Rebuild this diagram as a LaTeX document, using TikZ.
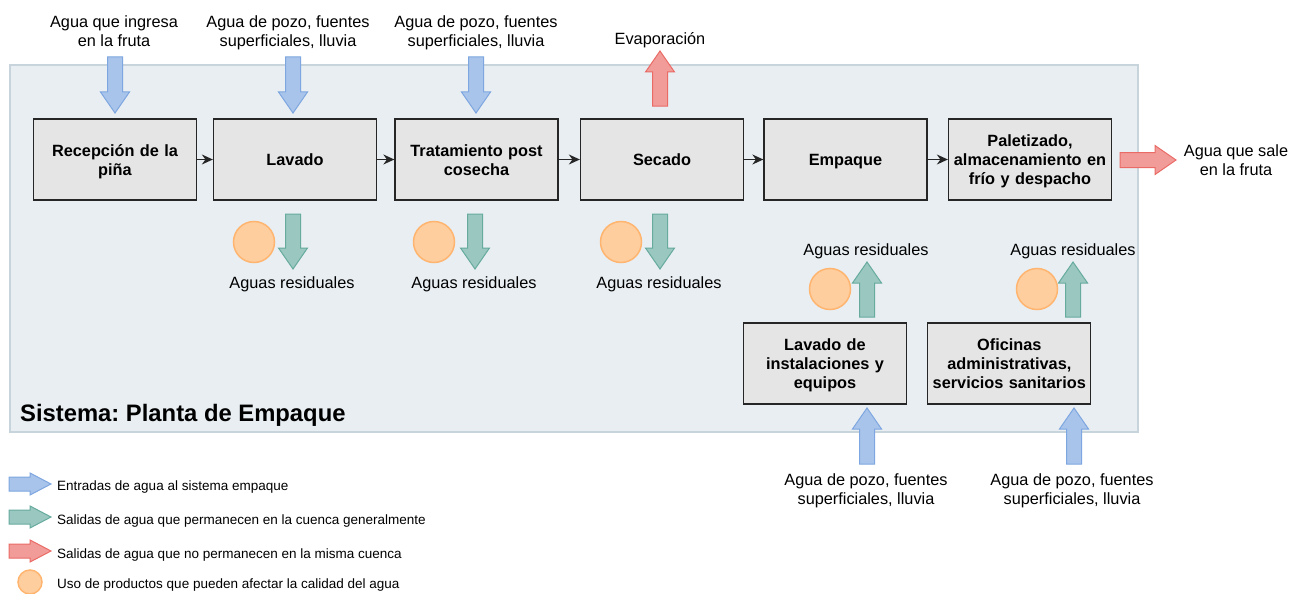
\documentclass[tikz,border=0pt]{standalone}
\usepackage{fontspec}
\setmainfont{Liberation Sans}
\usetikzlibrary{positioning,arrows.meta}
\frenchspacing

\definecolor{sisfondo}{HTML}{E8EEF2}
\definecolor{sisborde}{HTML}{C8D4DC}
\definecolor{azulrell}{HTML}{A9C4EB}
\definecolor{azulbord}{HTML}{7EA6E0}
\definecolor{verderell}{HTML}{9AC7BF}
\definecolor{verdebord}{HTML}{67AB9F}
\definecolor{rojorell}{HTML}{F19C99}
\definecolor{rojobord}{HTML}{EA6B66}
\definecolor{naranjarell}{HTML}{FFCE9F}
\definecolor{naranjabord}{HTML}{FFB570}

\newcommand{\puntal}{\rule[-3.5pt]{0pt}{19pt}}

\tikzset{
  flecha/.pic={\draw[pic actions] (0,-7.5) -- ({#1-21},-7.5) -- ({#1-21},-14.5)
    -- (#1,0) -- ({#1-21},14.5) -- ({#1-21},7.5) -- (0,7.5) -- cycle;},
  flechita/.pic={\draw[pic actions] (0,-7) -- (21,-7) -- (21,-11)
    -- (42,0) -- (21,11) -- (21,7) -- (0,7) -- cycle;}
}

\begin{document}
\begin{tikzpicture}[x=1pt,y=-1pt,
  proceso/.style={draw=black!85,fill=black!10,line width=1.3pt,minimum width=163pt,
    minimum height=81pt,text width=158pt,inner sep=0pt,align=center,
    font=\fontsize{16.3}{19}\selectfont\bfseries,
    execute at begin node=\puntal,execute at end node=\puntal},
  etiqueta/.style={align=center,inner sep=0pt,font=\fontsize{16.3}{19}\selectfont,
    execute at begin node=\puntal,execute at end node=\puntal},
  leyenda/.style={anchor=base west,inner sep=0pt,font=\fontsize{13.5}{16}\selectfont},
  entrada/.style={fill=azulrell,draw=azulbord,line width=1pt},
  salida/.style={fill=verderell,draw=verdebord,line width=1pt},
  perdida/.style={fill=rojorell,draw=rojobord,line width=1pt},
  producto/.style={circle,fill=naranjarell,draw=naranjabord,line width=1.5pt,
    minimum size=41pt,inner sep=0pt},
  paso/.style={-{Stealth[length=11pt,width=10pt]},line width=1.3pt,black!85}]
\useasboundingbox (0,0) rectangle (1291,594);

% sistema
\draw[fill=sisfondo,draw=sisborde,line width=1.3pt] (10,65) rectangle (1138,432);
\node[anchor=base west,inner sep=0pt,font=\fontsize{23.8}{28}\selectfont\bfseries]
  (titulo) at (20,421) {Sistema: Planta de Empaque};

% procesos
\node[proceso] (recepcion) at (115,159.5) {Recepción de la\\piña};
\node[proceso] (lavado) at (295,159.5) {Lavado};
\node[proceso] (tratamiento) at (476.5,159.5) {Tratamiento post\\cosecha};
\node[proceso] (secado) at (662,159.5) {Secado};
\node[proceso] (empaque) at (845.5,159.5) {Empaque};
\node[proceso] (paletizado) at (1030,159.5) {Paletizado,\\almacenamiento en\\frío y despacho};
\node[proceso] (instalaciones) at (825,363.5) {Lavado de\\instalaciones y\\equipos};
\node[proceso,right=20pt of instalaciones] (oficinas) {Oficinas\\administrativas,\\servicios sanitarios};

\draw[paso] (recepcion) -- (lavado);
\draw[paso] (lavado) -- (tratamiento);
\draw[paso] (tratamiento) -- (secado);
\draw[paso] (secado) -- (empaque);
\draw[paso] (empaque) -- (paletizado);

% entradas
\pic[entrada,rotate=-90] (entA) at (115,57) {flecha=56};
\pic[entrada,rotate=-90] (entB) at (293,57) {flecha=56};
\pic[entrada,rotate=-90] (entC) at (476,57) {flecha=56};
\pic[entrada,rotate=90] (entD) at (867,464) {flecha=56};
\pic[entrada,rotate=90] (entE) at (1074,464) {flecha=56};
\node[etiqueta] (lblA) at (114,33) {Agua que ingresa\\en la fruta};
\node[etiqueta] (lblB) at (288,33) {Agua de pozo, fuentes\\superficiales, lluvia};
\node[etiqueta] (lblC) at (476,33) {Agua de pozo, fuentes\\superficiales, lluvia};
\node[etiqueta] (lblD) at (866,490.5) {Agua de pozo, fuentes\\superficiales, lluvia};
\node[etiqueta] (lblE) at (1072,490.5) {Agua de pozo, fuentes\\superficiales, lluvia};

% perdidas
\pic[perdida,rotate=90] (evap) at (660,106) {flecha=55};
\pic[perdida] (fruta) at (1120,160) {flecha=56};
\node[etiqueta] (lblEvap) at (660,38.5) {Evaporación};
\node[etiqueta] (lblFruta) at (1236,161.5) {Agua que sale\\en la fruta};

% aguas residuales
\pic[salida,rotate=-90] (salA) at (293,214) {flecha=55};
\pic[salida,rotate=-90] (salB) at (475,214) {flecha=55};
\pic[salida,rotate=-90] (salC) at (660,214) {flecha=55};
\pic[salida,rotate=90] (salD) at (867,317) {flecha=55};
\pic[salida,rotate=90] (salE) at (1073,317) {flecha=55};
\node[producto] (prodA) at (254,242) {};
\node[producto] (prodB) at (434,242) {};
\node[producto] (prodC) at (621,242) {};
\node[producto] (prodD) at (830,289) {};
\node[producto] (prodE) at (1037,289) {};
\node[etiqueta] (resA) at (292,282) {Aguas residuales};
\node[etiqueta] (resB) at (474,282) {Aguas residuales};
\node[etiqueta] (resC) at (659,282) {Aguas residuales};
\node[etiqueta] (resD) at (866,249) {Aguas residuales};
\node[etiqueta] (resE) at (1073,249) {Aguas residuales};

% leyenda
\pic[entrada] (leyA) at (9,484) {flechita};
\pic[salida] (leyB) at (9,517) {flechita};
\pic[perdida] (leyC) at (9,551) {flechita};
\node[producto,minimum size=24pt] (leyD) at (30,582) {};
\node[leyenda] (txtA) at (57,490) {Entradas de agua al sistema empaque};
\node[leyenda] (txtB) at (57,524) {Salidas de agua que permanecen en la cuenca generalmente};
\node[leyenda] (txtC) at (57,558.3) {Salidas de agua que no permanecen en la misma cuenca};
\node[leyenda] (txtD) at (57,588.3) {Uso de productos que pueden afectar la calidad del agua};
\end{tikzpicture}
\end{document}
